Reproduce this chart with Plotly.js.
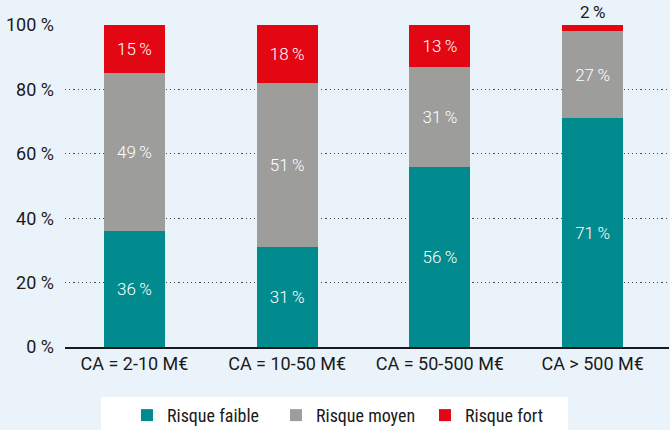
<!DOCTYPE html>
<html>
<head>
<meta charset="utf-8">
<script src="https://cdn.plot.ly/plotly-3.0.1.min.js"></script>
<style>html,body{margin:0;padding:0;background:#ebf3fa;}</style>
</head>
<body>
<div id="chart" style="width:670px;height:430px;"></div>
<script>
var categories = ["CA = 2-10 M€", "CA = 10-50 M€", "CA = 50-500 M€", "CA > 500 M€"];
var risqueFaible = [36, 31, 56, 71];
var risqueMoyen = [49, 51, 31, 27];
var risqueFort = [15, 18, 13, 2];
var seriesNames = ["Risque faible", "Risque moyen", "Risque fort"];
var yTicks = [0, 20, 40, 60, 80, 100];

function pctLabels(arr) { return arr.map(function (v) { return v + "\u2009%"; }); }

var labelFont = {family: "Roboto", size: 17, color: "#ffffff", weight: 300};

function makeTrace(vals, name, color, positions) {
  return {
    type: "bar",
    x: categories,
    y: vals,
    name: name,
    width: 0.4,
    marker: {color: color, line: {width: 0}},
    text: pctLabels(vals),
    textposition: positions,
    insidetextanchor: "middle",
    textfont: labelFont,
    insidetextfont: labelFont,
    outsidetextfont: {family: "Roboto", size: 17, color: "#1a1a1a", weight: 400},
    constraintext: "none",
    cliponaxis: false,
    hoverinfo: "skip"
  };
}

var data = [
  makeTrace(risqueFaible, seriesNames[0], "#028b8e", "inside"),
  makeTrace(risqueMoyen, seriesNames[1], "#9d9d9c", "inside"),
  makeTrace(risqueFort, seriesNames[2], "#e30613",
    risqueFort.map(function (v) { return v < 5 ? "outside" : "inside"; }))
];

var layout = {
  width: 670,
  height: 430,
  margin: {l: 65, r: 1, t: 25, b: 83, pad: 0, autoexpand: false},
  paper_bgcolor: "#ebf3fa",
  plot_bgcolor: "#ebf3fa",
  barmode: "stack",
  showlegend: true,
  font: {family: "Roboto", size: 18, color: "#1a1a1a"},
  xaxis: {
    type: "category",
    range: [-0.455, 3.5],
    showgrid: false,
    showline: true,
    linecolor: "#1a1a1a",
    linewidth: 1.5,
    ticks: "",
    tickfont: {family: "Roboto", size: 18, color: "#1a1a1a"},
    fixedrange: true
  },
  yaxis: {
    range: [0, 100],
    tickvals: yTicks,
    ticktext: yTicks.map(function (v) { return v + " %"; }),
    showgrid: true,
    gridcolor: "#4a4a4a",
    gridwidth: 1,
    griddash: "1.2px,3px",
    zeroline: false,
    showline: false,
    ticks: "",
    ticklabelstandoff: 10,
    tickfont: {family: "Roboto", size: 18, color: "#1a1a1a"},
    fixedrange: true
  },
  shapes: [{
    type: "rect", xref: "paper", yref: "paper", layer: "below",
    x0: 0.0596, x1: 0.8328, y0: -0.1553, y1: -0.27,
    fillcolor: "#ffffff", line: {width: 0}
  }],
  legend: {
    orientation: "h",
    x: 0.1026,
    xanchor: "left",
    y: -0.155,
    yanchor: "top",
    bgcolor: "rgba(0,0,0,0)",
    borderwidth: 0,
    font: {family: "Roboto Condensed, DejaVu Sans Condensed, Roboto", size: 18, color: "#1a1a1a"},
    entrywidth: 104,
    traceorder: "normal"
  }
};

Plotly.newPlot("chart", data, layout, {displayModeBar: false, staticPlot: true});
</script>
</body>
</html>
